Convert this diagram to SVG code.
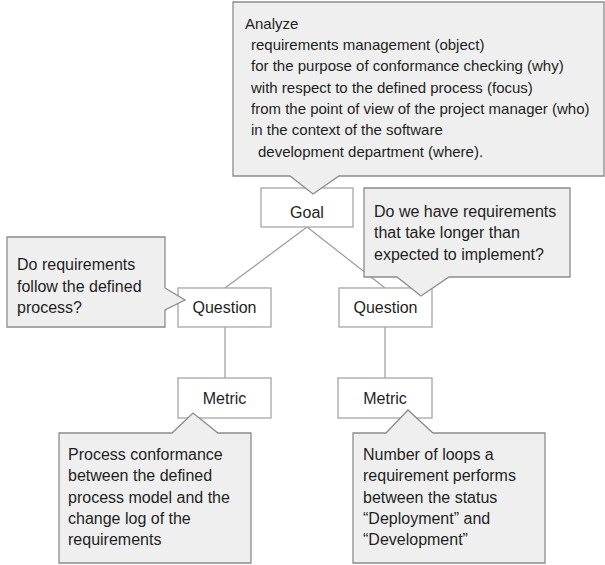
<svg xmlns="http://www.w3.org/2000/svg" width="605" height="565" viewBox="0 0 605 565">
<style>
.bg{fill:#ffffff}
.conn{stroke:#9a9a9a;stroke-width:1.2;fill:none}
.box{fill:#ffffff;stroke:#a6a6a6;stroke-width:1.3}
.callout{fill:#efefef;stroke:#8c8c8c;stroke-width:1.3;stroke-linejoin:miter}
text{font-family:"Liberation Sans",Arial,sans-serif;font-size:16px;fill:#1e1e1e}
.s{font-size:15px}
.c{text-anchor:middle}
</style>
<rect class="bg" x="0" y="0" width="605" height="565"/>
<g id="connectors">
<line class="conn" x1="307" y1="227" x2="225" y2="288"/>
<line class="conn" x1="307" y1="227" x2="385" y2="288"/>
<line class="conn" x1="225" y1="327" x2="225" y2="378"/>
<line class="conn" x1="385" y1="327" x2="385" y2="378"/>
</g>
<g id="goal">
<rect class="box" x="261" y="188" width="92" height="39"/>
<text class="c" x="307" y="218">Goal</text>
</g>
<g id="question-left">
<rect class="box" x="178" y="288" width="93" height="39"/>
<text class="c" x="224.5" y="313">Question</text>
</g>
<g id="question-right">
<rect class="box" x="339" y="288" width="93" height="39"/>
<text class="c" x="385.5" y="313">Question</text>
</g>
<g id="metric-left">
<rect class="box" x="178" y="378" width="93" height="40"/>
<text class="c" x="224.5" y="404">Metric</text>
</g>
<g id="metric-right">
<rect class="box" x="338" y="378" width="94" height="40"/>
<text class="c" x="385" y="404">Metric</text>
</g>
<g id="callout-goal">
<path class="callout" d="M233,2 H604 V176 H339 L313,194 L290,176 H233 Z"/>
<text class="s" x="245" y="29">Analyze</text>
<text class="s" x="251" y="50">requirements management (object)</text>
<text class="s" x="251" y="71">for the purpose of conformance checking (why)</text>
<text class="s" x="251" y="93">with respect to the defined process (focus)</text>
<text class="s" x="251" y="114">from the point of view of the project manager (who)</text>
<text class="s" x="251" y="135">in the context of the software</text>
<text class="s" x="258" y="157">development department (where).</text>
</g>
<g id="callout-question-left">
<path class="callout" d="M7,237 H165 V288 L185,300 L165,310 V327 H7 Z"/>
<text x="17" y="270">Do requirements</text>
<text x="17" y="292">follow the defined</text>
<text x="17" y="313">process?</text>
</g>
<g id="callout-question-right">
<path class="callout" d="M364,188 H570 V277 H449 L421,296 L397,277 H364 Z"/>
<text x="374" y="217">Do we have requirements</text>
<text x="374" y="238">that take longer than</text>
<text x="374" y="260">expected to implement?</text>
</g>
<g id="callout-metric-left">
<path class="callout" d="M59,433 H172 L193,413 L218,433 H251 V563 H59 Z"/>
<text x="68" y="460">Process conformance</text>
<text x="68" y="481">between the defined</text>
<text x="68" y="503">process model and the</text>
<text x="68" y="524">change log of the</text>
<text x="68" y="545">requirements</text>
</g>
<g id="callout-metric-right">
<path class="callout" d="M353,433 H386 L408,410 L433,433 H545 V563 H353 Z"/>
<text x="363" y="460">Number of loops a</text>
<text x="363" y="481">requirement performs</text>
<text x="363" y="503">between the status</text>
<text x="363" y="524">“Deployment” and</text>
<text x="363" y="545">“Development”</text>
</g>
</svg>
